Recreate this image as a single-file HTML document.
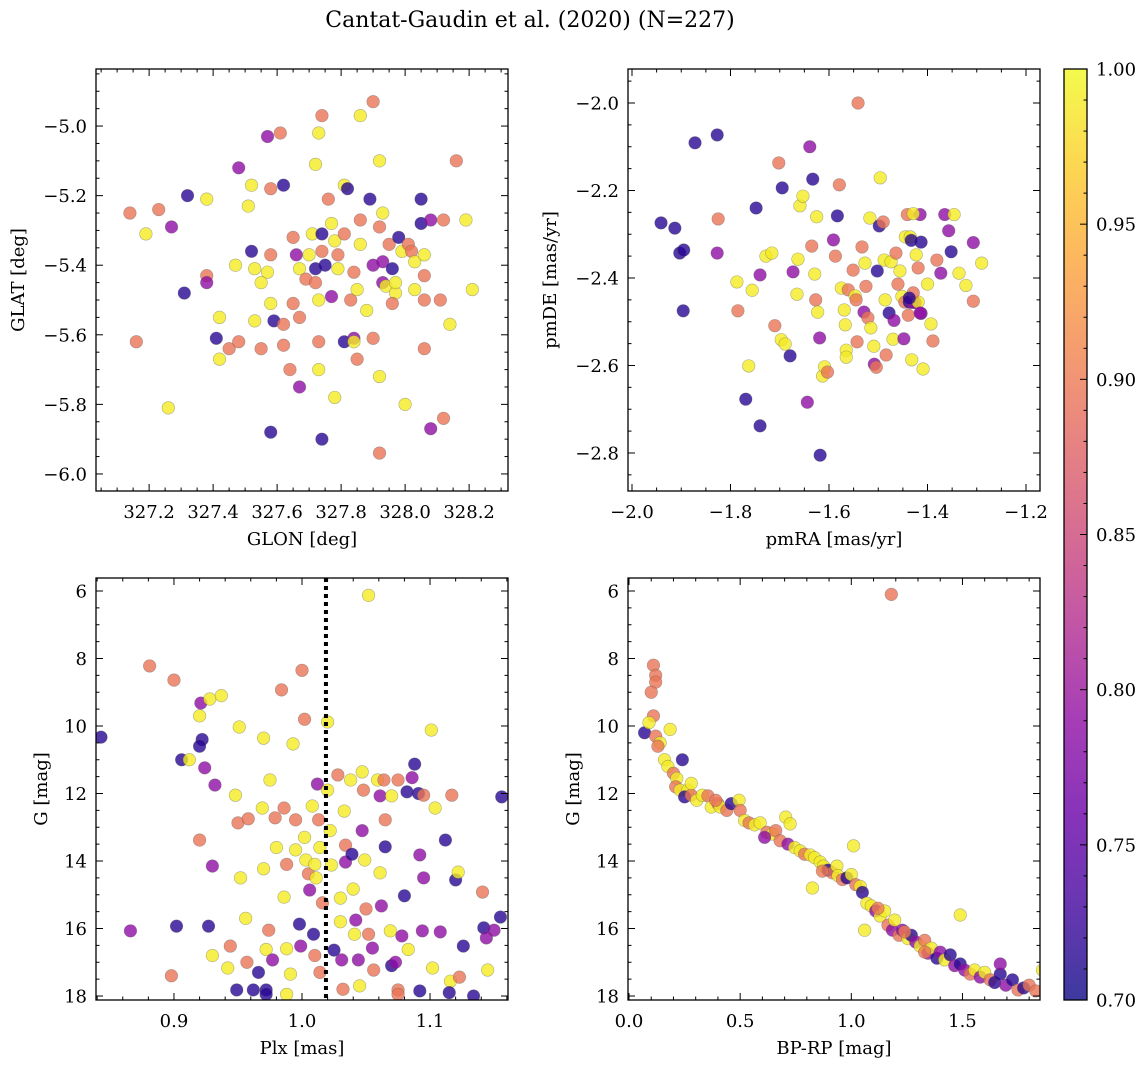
<!DOCTYPE html>
<html><head><meta charset="utf-8">
<style>
html,body{margin:0;padding:0;background:#fff;}
svg{display:block;font-family:"DejaVu Serif","Liberation Serif",serif;}
</style></head>
<body>
<svg id="fig" width="1148" height="1068" viewBox="0 0 1148 1068" xmlns="http://www.w3.org/2000/svg">
<text x="530" y="27" font-size="22" text-anchor="middle">Cantat-Gaudin et al. (2020) (N=227)</text>
</svg>
<script>
// ---- Panel 1: GLON / GLAT ----
const p1Glon=[327.14,327.19,327.23,327.27,327.32,327.31,327.38,327.38,327.38,327.16,327.26,327.48,327.41,327.42,327.42,327.45,327.47,327.48,327.52,327.51,327.52,327.53,327.53,327.55,327.57,327.61,327.58,327.62,327.58,327.57,327.58,327.58,327.59,327.55,327.62,327.62,327.64,327.67,327.65,327.66,327.67,327.65,327.67,327.69,327.70,327.71,327.72,327.73,327.74,327.72,327.72,327.73,327.74,327.74,327.75,327.76,327.77,327.78,327.79,327.77,327.73,327.73,327.74,327.79,327.81,327.82,327.81,327.81,327.78,327.84,327.83,327.84,327.84,327.85,327.86,327.86,327.86,327.85,327.89,327.90,327.88,327.90,327.90,327.92,327.92,327.92,327.92,327.93,327.93,327.93,327.94,327.95,327.96,327.97,327.97,327.96,327.98,327.99,328.00,328.01,328.02,328.03,328.03,328.05,328.05,328.06,328.06,328.06,328.06,328.08,328.08,328.12,328.12,328.14,328.11,328.16,328.19,328.21];
const p1Glat=[-5.25,-5.31,-5.24,-5.29,-5.20,-5.48,-5.21,-5.43,-5.45,-5.62,-5.81,-5.12,-5.61,-5.67,-5.55,-5.64,-5.40,-5.62,-5.17,-5.23,-5.36,-5.56,-5.41,-5.64,-5.03,-5.02,-5.18,-5.17,-5.37,-5.42,-5.51,-5.88,-5.56,-5.45,-5.57,-5.63,-5.70,-5.75,-5.32,-5.37,-5.41,-5.51,-5.55,-5.44,-5.37,-5.31,-5.11,-5.02,-4.97,-5.41,-5.45,-5.50,-5.31,-5.36,-5.40,-5.21,-5.28,-5.33,-5.41,-5.49,-5.62,-5.70,-5.90,-5.37,-5.17,-5.18,-5.31,-5.62,-5.78,-5.42,-5.50,-5.61,-5.62,-5.67,-4.97,-5.27,-5.34,-5.47,-5.21,-4.93,-5.53,-5.40,-5.61,-5.10,-5.72,-5.29,-5.94,-5.39,-5.45,-5.25,-5.46,-5.34,-5.41,-5.48,-5.45,-5.51,-5.32,-5.36,-5.80,-5.34,-5.36,-5.47,-5.39,-5.28,-5.21,-5.37,-5.43,-5.50,-5.64,-5.27,-5.87,-5.27,-5.84,-5.57,-5.50,-5.10,-5.27,-5.47];
const p1Prob="sysmbbysmsymbyysysyybyysmssbsyybbysssmsmysssyyyysbsybsbsyyymsybsybsbyssmysysyybsymsyyssmmyysbyysbyyssyybbysssmmssyssyymymby";
// ---- Panel 2: pmRA / pmDE ----
const p2Pmra=[-1.941,-1.913,-1.903,-1.895,-1.896,-1.872,-1.827,-1.825,-1.827,-1.787,-1.785,-1.769,-1.763,-1.748,-1.740,-1.756,-1.740,-1.728,-1.702,-1.695,-1.716,-1.710,-1.697,-1.689,-1.679,-1.673,-1.665,-1.663,-1.659,-1.653,-1.639,-1.633,-1.625,-1.635,-1.629,-1.627,-1.623,-1.619,-1.613,-1.609,-1.603,-1.618,-1.591,-1.587,-1.583,-1.579,-1.575,-1.569,-1.567,-1.565,-1.565,-1.561,-1.551,-1.547,-1.545,-1.533,-1.529,-1.527,-1.525,-1.521,-1.517,-1.515,-1.509,-1.508,-1.504,-1.502,-1.498,-1.496,-1.490,-1.488,-1.486,-1.484,-1.478,-1.474,-1.470,-1.468,-1.464,-1.460,-1.456,-1.452,-1.448,-1.446,-1.445,-1.441,-1.439,-1.437,-1.435,-1.431,-1.425,-1.423,-1.419,-1.415,-1.413,-1.409,-1.400,-1.393,-1.389,-1.381,-1.373,-1.365,-1.357,-1.352,-1.346,-1.336,-1.322,-1.307,-1.290,-1.307,-1.543,-1.419,-1.429,-1.437,-1.429,-1.413,-1.541,-1.433,-1.415,-1.432,-1.644];
const p2Pmde=[-2.274,-2.286,-2.343,-2.336,-2.475,-2.091,-2.073,-2.265,-2.343,-2.409,-2.475,-2.677,-2.601,-2.240,-2.738,-2.428,-2.393,-2.350,-2.137,-2.194,-2.343,-2.509,-2.541,-2.551,-2.578,-2.386,-2.437,-2.357,-2.235,-2.213,-2.100,-2.174,-2.260,-2.327,-2.391,-2.450,-2.478,-2.537,-2.624,-2.603,-2.615,-2.805,-2.313,-2.350,-2.258,-2.187,-2.423,-2.473,-2.507,-2.565,-2.581,-2.427,-2.382,-2.441,-2.450,-2.329,-2.478,-2.366,-2.419,-2.491,-2.263,-2.514,-2.556,-2.597,-2.604,-2.384,-2.281,-2.171,-2.272,-2.359,-2.450,-2.576,-2.480,-2.363,-2.540,-2.497,-2.343,-2.414,-2.384,-2.442,-2.539,-2.455,-2.306,-2.255,-2.485,-2.455,-2.306,-2.456,-2.456,-2.347,-2.455,-2.255,-2.318,-2.608,-2.414,-2.505,-2.544,-2.359,-2.389,-2.255,-2.292,-2.340,-2.255,-2.389,-2.417,-2.319,-2.366,-2.453,-2.546,-2.377,-2.434,-2.446,-2.253,-2.481,-2.000,-2.314,-2.480,-2.587,-2.684,-2.763,-2.645,-2.633,-2.565,-2.189,-2.062];
const p2Prob="bbbbbbbsmysbybbymysbysyybmyyyymbysysymyysbmsbsyyyyyssyssmyssyyymsbbysyysbyymssyymsyssbymmyymbyyyssmmmbyyymyssssbymsbmymsbsm";
// ---- Panel 3: Plx / G ----
const p3Plx=[0.843,0.866,0.881,0.900,0.898,0.902,0.906,0.912,0.920,0.922,0.920,0.924,0.921,0.928,0.937,0.920,0.930,0.927,0.930,0.932,0.942,0.944,0.951,0.948,0.950,0.952,0.958,0.956,0.957,0.962,0.966,0.969,0.970,0.970,0.972,0.972,0.974,0.975,0.979,0.977,0.980,0.984,0.986,0.988,0.986,0.988,0.991,0.993,0.995,0.995,0.998,0.999,1.000,1.002,1.002,1.003,1.005,1.006,1.008,1.010,1.011,1.009,1.010,1.012,1.013,1.014,1.014,1.016,1.020,1.020,1.022,1.023,1.025,1.028,1.030,1.030,1.031,1.032,1.033,1.034,1.034,1.038,1.039,1.040,1.041,1.042,1.044,1.045,1.047,1.048,1.047,1.049,1.050,1.052,1.055,1.056,1.059,1.061,1.061,1.062,1.052,1.064,1.065,1.065,1.070,1.069,1.070,1.073,1.075,1.075,1.078,1.080,1.082,1.083,1.086,1.088,1.091,1.092,1.094,1.101,1.102,1.104,1.095,1.095,1.092,1.108,1.112,1.116,1.117,1.120,1.122,1.123,1.126,1.134,1.141,1.142,1.144,1.145,1.150,1.155,1.156,0.949,0.972,0.988,1.075,1.115];
const p3G=[10.33,16.07,8.22,8.64,17.40,15.93,11.00,11.00,9.70,10.40,10.60,11.24,9.32,9.20,9.10,13.38,14.15,15.93,16.80,11.75,17.17,16.52,10.03,12.05,12.87,14.50,12.75,15.70,17.00,17.82,17.30,12.43,10.36,14.23,16.62,17.82,16.05,11.60,12.72,16.93,13.60,8.93,12.43,14.10,15.07,16.60,17.35,10.53,12.78,13.67,15.87,16.52,8.35,9.80,13.30,13.97,14.38,14.86,12.37,14.10,14.50,16.17,16.80,11.72,12.78,13.60,17.30,15.24,9.88,11.90,13.10,14.12,16.64,11.45,15.10,15.80,16.93,17.80,12.52,13.53,14.03,11.60,13.80,14.83,16.17,15.75,16.93,17.70,11.36,11.90,13.10,13.97,15.42,16.17,16.58,17.23,11.60,12.07,14.35,15.33,6.13,11.60,12.78,13.58,12.07,16.07,17.10,17.00,11.60,17.82,16.22,15.03,11.95,16.62,11.53,11.13,12.00,13.82,16.07,10.12,17.17,12.43,12.05,14.50,17.85,16.10,13.38,17.56,12.05,14.56,14.33,17.44,16.52,18.00,14.92,15.98,16.28,17.23,16.05,15.66,12.10,17.82,17.95,17.95,17.95,17.90];
const p3Prob="bmsssbbyybbmmyysmbymysyysysysbbyyyybsysmysssyyyysybmssyysmyyybsmsyssyyyybsyymsysmybyymmyysmyssmsymymyssbyybmssmbbymbbmmyyysmbmbysbysbbsbmymbbbbysbb";
// ---- Panel 4: BP-RP / G ----
const p4Bprp=[0.07,0.11,0.12,0.12,0.10,0.11,0.09,0.12,0.14,0.13,0.185,0.16,0.175,0.20,0.215,0.24,0.21,0.23,0.265,0.25,0.28,0.305,0.33,0.355,0.37,0.40,0.41,0.44,0.46,0.495,0.50,0.52,0.54,0.565,0.59,0.62,0.645,0.66,0.68,0.705,0.725,0.715,0.745,0.77,0.79,0.815,0.825,0.835,0.86,0.875,0.895,0.915,0.935,0.94,0.96,0.98,1.00,1.01,1.02,1.04,1.05,1.07,1.06,1.09,1.11,1.13,1.15,1.165,1.185,1.195,1.215,1.23,1.255,1.27,1.29,1.31,1.33,1.345,1.36,1.385,1.40,1.42,1.445,1.465,1.49,1.51,1.535,1.555,1.58,1.60,1.625,1.645,1.67,1.695,1.725,1.75,1.775,1.80,1.83,1.86,1.875,1.18,1.49,1.67,0.28,0.39,0.61,0.87,1.12,1.24,1.33];
const p4G=[10.2,8.2,8.5,8.7,9.0,9.7,9.9,10.3,10.5,10.6,10.1,11.0,11.2,11.4,11.55,11.0,11.8,11.9,11.9,12.1,12.05,12.2,12.05,12.07,12.4,12.3,12.4,12.5,12.3,12.2,12.5,12.8,12.87,12.93,12.87,13.15,13.2,13.1,13.4,12.7,12.9,13.5,13.6,13.7,13.8,13.82,14.8,13.9,14.03,14.15,14.27,14.35,14.15,14.43,14.55,14.5,14.4,13.55,14.7,14.75,14.93,15.25,16.05,15.33,15.48,15.63,15.48,15.9,16.05,15.75,16.2,16.05,16.3,16.2,16.4,16.52,16.35,16.73,16.58,16.88,16.7,16.93,16.78,17.1,17.05,17.23,17.35,17.23,17.44,17.3,17.52,17.6,17.35,17.68,17.52,17.82,17.76,17.68,17.85,17.23,17.17,6.1,15.6,17.05,11.7,12.2,13.3,14.3,15.4,16.1,16.7];
const p4Prob="bsssssysysyyysybsyybsyysysysbysysyysyssyymyysyyyyybsyysbyysybyyymyysmysmybmysmybmybmbmsymysbbmbsbssyysymysm";

const probMap={b:0.715,m:0.79,s:0.895,y:0.99};
const cbTicks=[0.70,0.75,0.80,0.85,0.90,0.95,1.00];

const NS="http://www.w3.org/2000/svg";
const svg=document.getElementById('fig');
function el(tag,attrs,parent){const e=document.createElementNS(NS,tag);for(const k in attrs)e.setAttribute(k,attrs[k]);(parent||svg).appendChild(e);return e;}
const stops=["#0d0887","#41049d","#6a00a8","#8f0da4","#b12a90","#cc4778","#e16462","#f2844b","#fca636","#fcce25","#f0f921"];
function hex(h){return [parseInt(h.substr(1,2),16),parseInt(h.substr(3,2),16),parseInt(h.substr(5,2),16)];}
function plasma(t){t=Math.max(0,Math.min(1,t));const f=t*10,i=Math.min(9,Math.floor(f)),r=f-i;const a=hex(stops[i]),b=hex(stops[i+1]);return `rgb(${a.map((v,k)=>Math.round(v+(b[k]-v)*r)).join(',')})`;}
function pcol(p){return plasma((p-0.7)/0.3);}
function fmt(v,d){return (v<0?'\u2212':'')+Math.abs(v).toFixed(d);}
const FS=18;

function panel(o){
  const g=el('g',{});
  
  
  const sx=v=>o.x0+(v-o.xmin)/(o.xmax-o.xmin)*(o.x1-o.x0);
  const sy=v=>o.y1-(v-o.ymin)/(o.ymax-o.ymin)*(o.y1-o.y0);
  const cid='clip'+o.name;
  const cp=el('clipPath',{id:cid},g);el('rect',{x:o.x0,y:o.y0,width:o.x1-o.x0,height:o.y1-o.y0},cp);
  const pts=el('g',{'clip-path':`url(#${cid})`},g);
  for(let i=0;i<o.xs.length;i++){
    const p=probMap[o.ps[i]]||0.9;
    const c=el('circle',{cx:sx(o.xs[i]),cy:sy(o.ys[i]),r:6.3,fill:pcol(p),'fill-opacity':0.8,stroke:'#555','stroke-opacity':0.45,'stroke-width':0.6},pts);
    
    
  }
  if(o.vline!==undefined){
    const l=el('line',{x1:sx(o.vline),x2:sx(o.vline),y1:o.y0,y2:o.y1,stroke:'#000','stroke-width':4,'stroke-dasharray':'4,4'},g);
    
    
  }
  el('rect',{x:o.x0,y:o.y0,width:o.x1-o.x0,height:o.y1-o.y0,fill:'none',stroke:'#000','stroke-width':1.3},g);
  const tk=el('g',{stroke:'#000','stroke-width':1},g);
  function ticks(min,max,step,minor,axis){
    const lo=Math.min(min,max),hi=Math.max(min,max);
    const ms=step/minor;
    for(let v=Math.ceil(lo/ms-1e-6)*ms;v<=hi+1e-9;v+=ms){
      const isMaj=Math.abs(v/step-Math.round(v/step))<1e-4;const L=isMaj?7:3.5;
      if(axis==='x'){const X=sx(v);el('line',{x1:X,x2:X,y1:o.y1,y2:o.y1-L},tk);el('line',{x1:X,x2:X,y1:o.y0,y2:o.y0+L},tk);}
      else{const Y=sy(v);el('line',{x1:o.x0,x2:o.x0+L,y1:Y,y2:Y},tk);el('line',{x1:o.x1,x2:o.x1-L,y1:Y,y2:Y},tk);}
    }
  }
  ticks(o.xmin,o.xmax,o.xstep,o.xminor,'x');
  ticks(o.ymin,o.ymax,o.ystep,o.yminor,'y');
  o.xt.forEach(v=>{const t=el('text',{x:sx(v),y:o.y1+27,'font-size':FS,'text-anchor':'middle'},g);t.textContent=fmt(v,o.xd);});
  o.yt.forEach(v=>{const t=el('text',{x:o.x0-9,y:sy(v)+6.5,'font-size':FS,'text-anchor':'end'},g);t.textContent=fmt(v,o.yd);});
  const xl=el('text',{x:(o.x0+o.x1)/2,y:o.y1+54,'font-size':FS,'text-anchor':'middle'},g);xl.textContent=o.xlabel;
  
  const yx=o.ylx,yy=(o.y0+o.y1)/2;
  const yl=el('text',{x:yx,y:yy,'font-size':FS,'text-anchor':'middle',transform:`rotate(-90 ${yx} ${yy})`},g);yl.textContent=o.ylabel;
  
}
panel({name:'glon-glat-panel',x0:96,x1:508,y0:69,y1:491,xmin:327.034,xmax:328.3215,ymin:-6.049,ymax:-4.836,xstep:0.2,xminor:4,ystep:0.2,yminor:4,xt:[327.2,327.4,327.6,327.8,328.0,328.2],xd:1,yt:[-6.0,-5.8,-5.6,-5.4,-5.2,-5.0],yd:1,xs:p1Glon,ys:p1Glat,ps:p1Prob,xlabel:'GLON [deg]',ylabel:'GLAT [deg]',ylx:24});
panel({name:'pm-panel',x0:628,x1:1040,y0:69,y1:491,xmin:-2.0081,xmax:-1.1716,ymin:-2.8869,ymax:-1.9223,xstep:0.2,xminor:4,ystep:0.2,yminor:4,xt:[-2.0,-1.8,-1.6,-1.4,-1.2],xd:1,yt:[-2.8,-2.6,-2.4,-2.2,-2.0],yd:1,xs:p2Pmra,ys:p2Pmde,ps:p2Prob,xlabel:'pmRA [mas/yr]',ylabel:'pmDE [mas/yr]',ylx:556});
panel({name:'plx-g-panel',x0:96,x1:508,y0:578,y1:1000,xmin:0.8391,xmax:1.1609,ymin:18.118,ymax:5.615,xstep:0.1,xminor:5,ystep:2,yminor:4,xt:[0.9,1.0,1.1],xd:1,yt:[6,8,10,12,14,16,18],yd:0,xs:p3Plx,ys:p3G,ps:p3Prob,vline:1.0187,xlabel:'Plx [mas]',ylabel:'G [mag]',ylx:47});
panel({name:'cmd-panel',x0:628,x1:1040,y0:578,y1:1000,xmin:-0.0045,xmax:1.8488,ymin:18.118,ymax:5.615,xstep:0.5,xminor:5,ystep:2,yminor:4,xt:[0.0,0.5,1.0,1.5],xd:1,yt:[6,8,10,12,14,16,18],yd:0,xs:p4Bprp,ys:p4G,ps:p4Prob,xlabel:'BP-RP [mag]',ylabel:'G [mag]',ylx:579});

// colorbar
const cb=el('g',{});


const defs=el('defs',{},cb);
const lg=el('linearGradient',{id:'cbgrad',x1:0,y1:1,x2:0,y2:0},defs);
for(let i=0;i<=20;i++){el('stop',{offset:i/20,'stop-color':plasma(i/20),'stop-opacity':0.8},lg);}
const CX0=1064,CX1=1087,CY0=69,CY1=1000;
el('rect',{x:CX0,y:CY0,width:CX1-CX0,height:CY1-CY0,fill:'url(#cbgrad)',stroke:'#000','stroke-width':1.3},cb);
const cy=v=>CY1-(v-0.7)/0.3*(CY1-CY0);
for(let k=0;k<=30;k++){const v=0.7+k*0.01;const maj=k%5===0;const Y=cy(v);el('line',{x1:CX1,x2:CX1-(maj?7:3.5),y1:Y,y2:Y,stroke:'#000','stroke-width':1},cb);}
cbTicks.forEach(v=>{const t=el('text',{x:CX1+9,y:cy(v)+6.5,'font-size':FS},cb);t.textContent=v.toFixed(2);});
</script>
</body></html>
